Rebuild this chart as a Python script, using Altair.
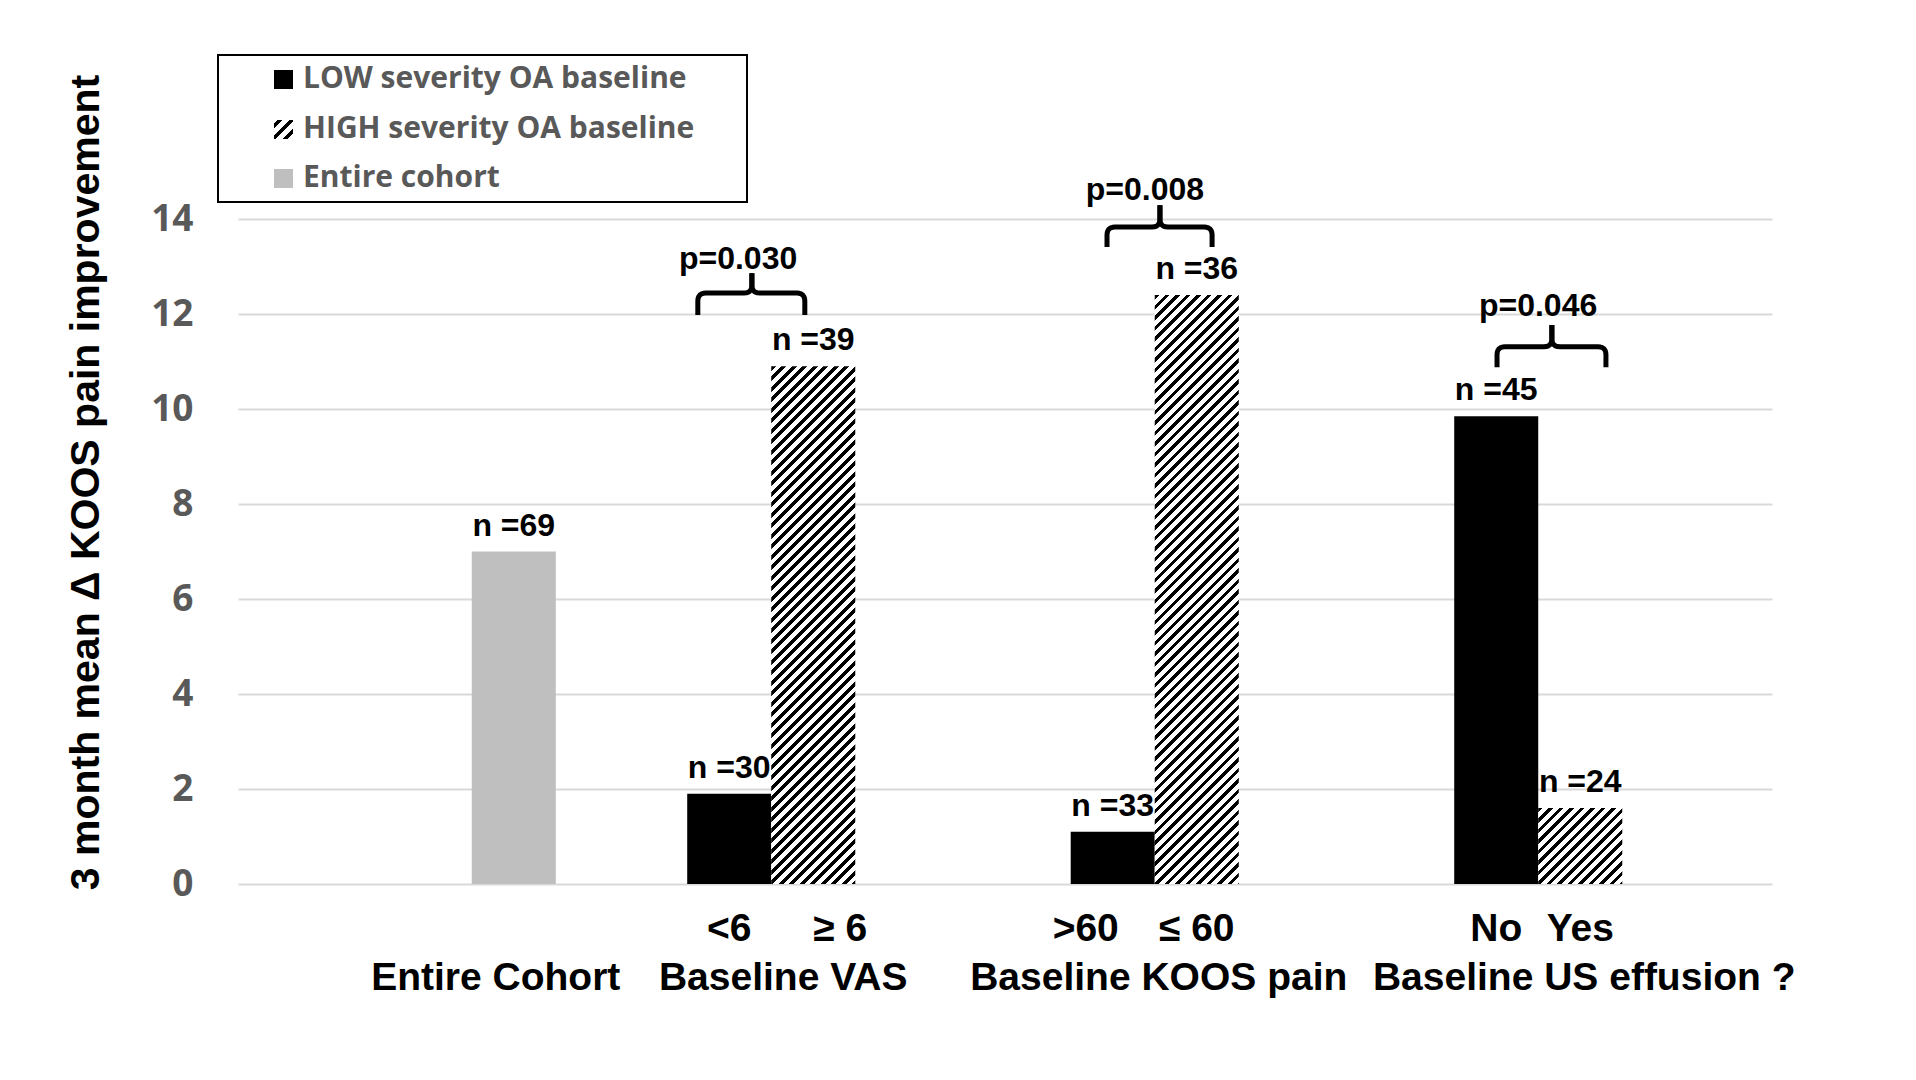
import math
import altair as alt
import pandas as pd

# ---------------- data ----------------
categories = ["Entire Cohort", "Baseline VAS", "Baseline KOOS pain", "Baseline US effusion ?"]
sub_low = ["", "<6", ">60", "No"]
sub_high = ["", "≥ 6", "≤ 60", "Yes"]
entire_value = 7.0
entire_n = 69
low_values = [None, 1.9, 1.1, 9.85]
high_values = [None, 10.9, 12.4, 1.6]
low_n = [None, 30, 33, 45]
high_n = [None, 39, 36, 24]

p_labels = ["p=0.030", "p=0.008", "p=0.046"]
# bracket anchors in data units (x in category units, y in KOOS units)
br_left = [1.199, 2.266, 3.283]
br_right = [1.478, 2.540, 3.567]
br_center = [1.340, 2.404, 3.426]
br_low = [11.98, 13.41, 10.88]
br_mid = [12.44, 13.83, 11.31]
br_top = [12.86, 14.29, 11.77]
p_x = [1.304, 2.365, 3.390]
p_y = [12.95, 14.40, 11.96]

legend_labels = ["LOW severity OA baseline", "HIGH severity OA baseline", "Entire cohort"]

# ---------------- layout / style ----------------
W, H = 1534, 665
YMAX = 14
SLOT = 0.2191          # bar width in category units
PX_X = W / 4.0
PX_Y = H / YMAX
BOLD = "Liberation Sans"
SOFT = "Open Sans"
GRAY_TXT = "#595959"
sub_dx_low = [0, 0, -27, 0]      # pixel nudges of the small labels under bars
sub_dx_high = [0, 27, 0, 0]
cat_dx = [-18, 12, 4, 46]        # pixel nudges of the category names

slot_index = {"low": 0, "high": 1, "entire": 2}
rows = []
for i, cat in enumerate(categories):
    entries = []
    if i == 0:
        entries.append(("entire", entire_value, entire_n, "", 0))
    else:
        entries.append(("low", low_values[i], low_n[i], sub_low[i], sub_dx_low[i]))
        entries.append(("high", high_values[i], high_n[i], sub_high[i], sub_dx_high[i]))
    for series, v, n, sub, sdx in entries:
        j = slot_index[series]
        x0 = i + 0.5 + (j - 1.5) * SLOT
        rows.append(dict(id=f"{i}-{series}", cat=cat, series=series, value=v,
                         nlabel=f"n ={n}", sublabel=sub, x=x0, x2=x0 + SLOT,
                         xc=x0 + SLOT / 2, subx=x0 + SLOT / 2 + sdx / PX_X, zero=0.0))
bars = pd.DataFrame(rows)

xscale = alt.Scale(domain=[0, 4], nice=False, zero=False)
yscale = alt.Scale(domain=[0, YMAX], nice=False, zero=True)
TITLE = "3 month mean Δ KOOS pain improvement"
yaxis = alt.Axis(
    values=list(range(0, 15, 2)), grid=True, gridColor="#d9d9d9", gridWidth=2,
    domain=False, ticks=False, tickSize=0, labelPadding=45,
    labelFont=SOFT, labelFontWeight="bold", labelFontSize=37, labelColor=GRAY_TXT,
    title=TITLE, titleFont=BOLD, titleFontSize=41,
    titleFontWeight="bold", titleColor="black", titleAngle=-90, titleAlign="center",
    titleBaseline="middle", titleX=-152, titleY=263)


def Y(field):
    return alt.Y(field, scale=yscale, axis=yaxis, title=TITLE)


def X(field):
    return alt.X(field, scale=xscale, axis=None)


def hatch_fill(w_px, h_px, period=10.5, duty=0.45, phase=0.0):
    n = (w_px + h_px) / period
    k = (w_px + h_px) / (w_px ** 2 + h_px ** 2)
    stops = [{"offset": 0, "color": "white"}]
    for i in range(-2, int(math.ceil(n)) + 2):
        a = (i + phase) / n
        b = (i + phase + duty) / n
        a, b = max(a, 0.0), min(b, 1.0)
        if b <= a:
            continue
        stops += [{"offset": a, "color": "white"}, {"offset": a, "color": "black"},
                  {"offset": b, "color": "black"}, {"offset": b, "color": "white"}]
    stops.append({"offset": 1, "color": "white"})
    return {"gradient": "linear", "stops": stops, "x1": 0, "y1": 0,
            "x2": k * w_px, "y2": k * h_px}


def rounded(points, r_px=8.0, steps=6):
    """round the corners of a polyline given in data units (r in pixels)"""
    P = [(x * PX_X, y * PX_Y) for x, y in points]
    out = [P[0]]
    for a, c, b in zip(P[:-2], P[1:-1], P[2:]):
        da = math.hypot(a[0] - c[0], a[1] - c[1])
        db = math.hypot(b[0] - c[0], b[1] - c[1])
        r = min(r_px, da / 2, db / 2)
        s = (c[0] + (a[0] - c[0]) * r / da, c[1] + (a[1] - c[1]) * r / da)
        e = (c[0] + (b[0] - c[0]) * r / db, c[1] + (b[1] - c[1]) * r / db)
        for t in [i / steps for i in range(steps + 1)]:
            qx = (1 - t) ** 2 * s[0] + 2 * (1 - t) * t * c[0] + t ** 2 * e[0]
            qy = (1 - t) ** 2 * s[1] + 2 * (1 - t) * t * c[1] + t ** 2 * e[1]
            out.append((qx, qy))
    out.append(P[-1])
    return [(x / PX_X, y / PX_Y) for x, y in out]


# base: solid bars carrying the y axis
solid = bars[bars["series"] != "high"]
base = alt.Chart(solid).mark_rect().encode(
    x=X("x:Q"), x2="x2:Q", y=Y("value:Q"), y2="zero:Q",
    color=alt.Color("series:N", scale=alt.Scale(domain=["low", "entire"],
                                                 range=["#000000", "#bfbfbf"]), legend=None),
)
layers = [base]

# hatched bars
for _, r in bars[bars["series"] == "high"].iterrows():
    wpx = SLOT * PX_X
    hpx = r["value"] * PX_Y
    layers.append(alt.Chart(bars[bars["id"] == r["id"]]).mark_rect(
        color=hatch_fill(wpx, hpx)).encode(
        x=X("x:Q"), x2="x2:Q", y=Y("value:Q"), y2="zero:Q"))

# n labels
layers.append(alt.Chart(bars).mark_text(font=BOLD, fontWeight="bold", fontSize=32,
                                        color="black", baseline="alphabetic", dy=-16).encode(
    x=X("xc:Q"), y=Y("value:Q"), text="nlabel:N"))

# sub labels under bars
layers.append(alt.Chart(bars[bars["sublabel"] != ""]).mark_text(
    font=BOLD, fontWeight="bold", fontSize=39, color="black", baseline="middle").encode(
    x=X("subx:Q"), y=alt.value(710), text="sublabel:N"))

# category labels
cat_df = pd.DataFrame({"cat": categories,
                       "xc": [bars[bars["cat"] == c]["xc"].mean() + d / PX_X
                              for c, d in zip(categories, cat_dx)]})
layers.append(alt.Chart(cat_df).mark_text(
    font=BOLD, fontWeight="bold", fontSize=39, color="black", baseline="middle").encode(
    x=X("xc:Q"), y=alt.value(759), text="cat:N"))

# brackets
br_rows = []
for b in range(len(p_labels)):
    half_a = [(br_left[b], br_low[b]), (br_left[b], br_mid[b]), (br_center[b], br_mid[b]),
              (br_center[b], br_top[b])]
    half_b = [(br_center[b], br_top[b]), (br_center[b], br_mid[b]), (br_right[b], br_mid[b]),
              (br_right[b], br_low[b])]
    for seg, pts in (("a", half_a), ("b", half_b)):
        for o, (bx, by) in enumerate(rounded(pts)):
            br_rows.append(dict(seg=f"{b}{seg}", order=o, bx=bx, by=by))
br_df = pd.DataFrame(br_rows)
layers.append(alt.Chart(br_df).mark_line(color="black", strokeWidth=5, strokeJoin="round",
                                         strokeCap="butt").encode(
    x=X("bx:Q"), y=Y("by:Q"), detail="seg:N", order="order:Q"))

p_df = pd.DataFrame({"p": p_labels, "px": p_x, "py": p_y})
layers.append(alt.Chart(p_df).mark_text(font=BOLD, fontWeight="bold", fontSize=32,
                                        color="black", baseline="alphabetic").encode(
    x=X("px:Q"), y=Y("py:Q"), text="p:N"))

# legend (drawn manually)
one = pd.DataFrame({"k": [0]})
layers.append(alt.Chart(one).mark_rect(fill="white", stroke="black", strokeWidth=2).encode(
    x=alt.value(-20), x2=alt.value(509), y=alt.value(-164), y2=alt.value(-17)))
leg_y = [-140, -90, -41]
swatch_fill = ["#000000", hatch_fill(19, 19, period=12, duty=0.36, phase=0.5 - 0.18), "#bfbfbf"]
for lbl, ly, fillv in zip(legend_labels, leg_y, swatch_fill):
    d = pd.DataFrame({"label": [lbl]})
    layers.append(alt.Chart(d).mark_rect(color=fillv).encode(
        x=alt.value(36), x2=alt.value(55), y=alt.value(ly - 9), y2=alt.value(ly + 10)))
    layers.append(alt.Chart(d).mark_text(font=SOFT, fontWeight="bold", fontSize=30,
                                         color=GRAY_TXT, align="left",
                                         baseline="middle").encode(
        x=alt.value(65), y=alt.value(ly), text="label:N"))

chart = alt.layer(*layers).properties(
    width=W, height=H,
    padding={"left": 230, "top": 211, "right": 130, "bottom": 180},
    autosize=alt.AutoSizeParams(type="none"),
    background="white",
).configure_view(stroke=None)

chart.save("out.html", embed_options={"renderer": "svg", "actions": False})
